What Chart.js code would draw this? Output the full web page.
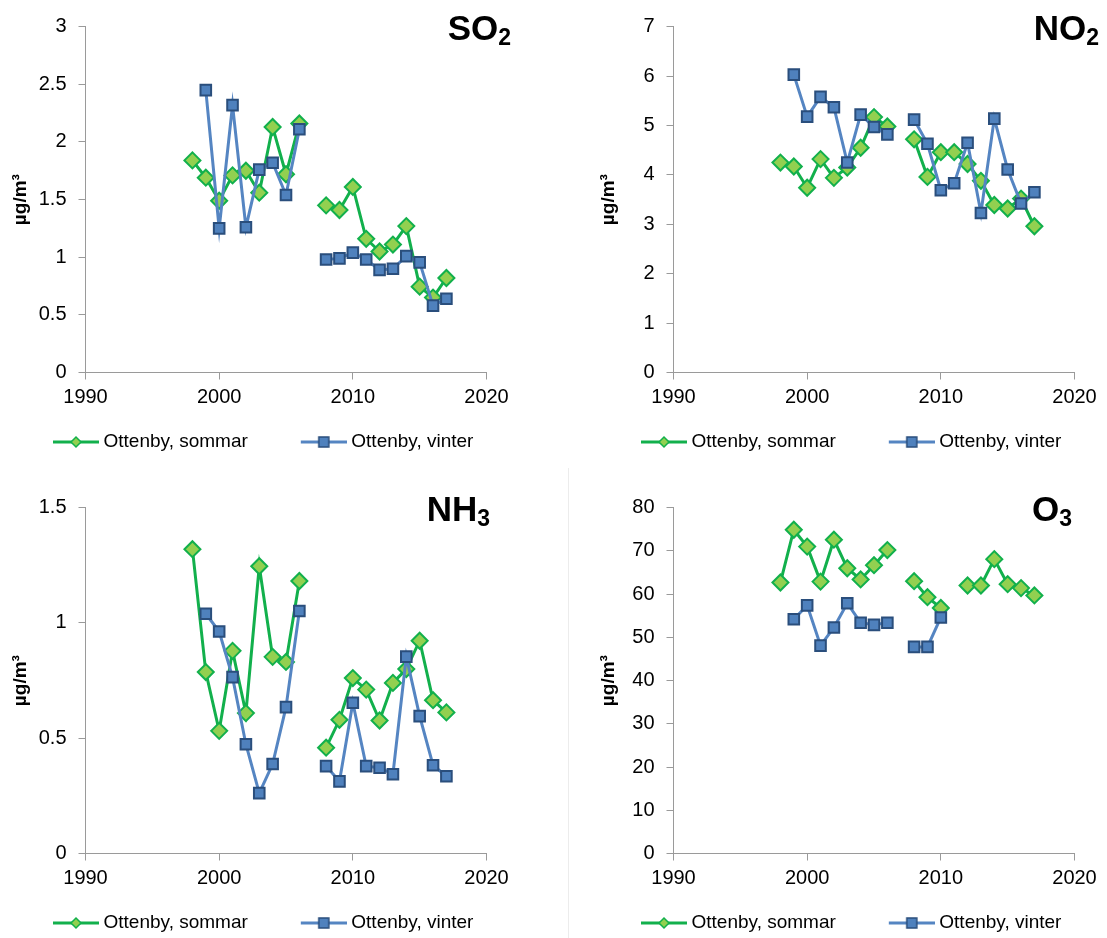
<!DOCTYPE html>
<html><head><meta charset="utf-8">
<script src="https://cdn.jsdelivr.net/npm/chart.js@4.4.1/dist/chart.umd.min.js"></script>
<style>
html,body{margin:0;padding:0;background:#fff;overflow:hidden;width:1107px;height:938px;}
canvas{position:absolute;}
.ttl{position:absolute;width:200px;text-align:right;font-family:'Liberation Sans',Arial,sans-serif;font-weight:bold;font-size:35px;line-height:35px;color:#000;white-space:nowrap;}
.ttl span{font-size:23px;position:relative;top:5px;}
.sep{position:absolute;left:568px;top:468px;width:1px;height:470px;background:#ececec;}
</style></head><body>
<div class="sep"></div>
<canvas id="c1" width="518" height="469" style="left:0px;top:0px"></canvas>
<canvas id="c2" width="518" height="469" style="left:588px;top:0px"></canvas>
<canvas id="c3" width="518" height="469" style="left:0px;top:481px"></canvas>
<canvas id="c4" width="518" height="469" style="left:588px;top:481px"></canvas>
<div class="ttl" style="left:311px;top:10px">SO<span>2</span></div>
<div class="ttl" style="left:899px;top:10px">NO<span>2</span></div>
<div class="ttl" style="left:290px;top:491px">NH<span>3</span></div>
<div class="ttl" style="left:872px;top:491px">O<span>3</span></div>
<script>
const years = [1998,1999,2000,2001,2002,2003,2004,2005,2006,2007,2008,2009,2010,2011,2012,2013,2014,2015,2016,2017];
const xTickLabels = {1990:'1990',2000:'2000',2010:'2010',2020:'2020'};
const seriesNames = ['Ottenby, sommar','Ottenby, vinter'];
const yTitle = 'µg/m³';

const so2YTicks = ['0','0.5','1','1.5','2','2.5','3'];
const no2YTicks = ['0','1','2','3','4','5','6','7'];
const nh3YTicks = ['0','0.5','1','1.5'];
const o3YTicks  = ['0','10','20','30','40','50','60','70','80'];

const so2Sommar = [1.84,1.69,1.49,1.71,1.75,1.56,2.13,1.72,2.16,null,1.45,1.41,1.61,1.16,1.05,1.11,1.27,0.745,0.65,0.82];
const so2Vinter = [null,2.45,1.25,2.32,1.26,1.76,1.82,1.54,2.11,null,0.98,0.99,1.04,0.98,0.89,0.90,1.01,0.955,0.58,0.64];
const no2Sommar = [4.25,4.17,3.74,4.32,3.94,4.15,4.55,5.17,4.98,null,4.72,3.96,4.46,4.46,4.22,3.88,3.39,3.32,3.52,2.96];
const no2Vinter = [null,6.03,5.18,5.58,5.37,4.25,5.22,4.97,4.82,null,5.12,4.63,3.69,3.83,4.65,3.23,5.14,4.11,3.42,3.65];
const nh3Sommar = [1.32,0.787,0.532,0.879,0.609,1.246,0.853,0.831,1.182,null,0.459,0.58,0.761,0.711,0.577,0.74,0.80,0.923,0.665,0.612];
const nh3Vinter = [null,1.04,0.963,0.765,0.474,0.262,0.388,0.635,1.052,null,0.379,0.313,0.654,0.379,0.372,0.344,0.854,0.596,0.383,0.335];
const o3Sommar = [62.7,74.9,71.0,62.9,72.6,66.0,63.4,66.7,70.2,null,63.0,59.3,56.8,null,62.0,62.0,68.1,62.3,61.4,59.7];
const o3Vinter = [null,54.2,57.4,48.1,52.3,57.9,53.4,52.9,53.4,null,47.8,47.8,54.6,null,null,null,null,null,null,null];

const FAMILY = "'Liberation Sans', Arial, sans-serif";
const GREEN_LINE = '#12B04C', GREEN_FILL = '#92D050', GREEN_EDGE = '#12B04C';
const BLUE_LINE = '#5585C2', BLUE_FILL = '#4F81BD', BLUE_EDGE = '#2A4E7C';
const AXIS = '#9a9a9a';
const CW = 518;

function pts(arr){ return years.map((y,i)=>({x:y, y:arr[i]})); }

function legendIcon(kind){
  const W=96,H=18;
  const c=document.createElement('canvas'); c.width=W; c.height=H;
  const g=c.getContext('2d');
  g.strokeStyle = kind==='s'?GREEN_LINE:BLUE_LINE; g.lineWidth=3;
  g.beginPath(); g.moveTo(W-46,H/2); g.lineTo(W,H/2); g.stroke();
  const cx=W-23, cy=H/2;
  g.lineWidth=1.5;
  if(kind==='s'){
    const r=5;
    g.fillStyle=GREEN_FILL; g.strokeStyle=GREEN_EDGE;
    g.beginPath(); g.moveTo(cx-r,cy); g.lineTo(cx,cy-r); g.lineTo(cx+r,cy); g.lineTo(cx,cy+r); g.closePath(); g.fill(); g.stroke();
  } else {
    const s=10;
    g.fillStyle=BLUE_FILL; g.strokeStyle=BLUE_EDGE;
    g.fillRect(cx-s/2,cy-s/2,s,s); g.strokeRect(cx-s/2,cy-s/2,s,s);
  }
  return c;
}
const iconS = legendIcon('s'), iconV = legendIcon('v');

function makeChart(id, sommar, vinter, yMax, yStep, yTicks){
  new Chart(document.getElementById(id), {
    type:'line',
    data:{datasets:[
      {label:seriesNames[0], data:pts(sommar), borderColor:GREEN_LINE, borderWidth:3, pointStyle:'rectRot', pointRadius:8, pointHoverRadius:8,
       pointBackgroundColor:GREEN_FILL, pointBorderColor:GREEN_EDGE, pointBorderWidth:2, order:2, spanGaps:false, tension:0},
      {label:seriesNames[1], data:pts(vinter), borderColor:BLUE_LINE, borderWidth:3, pointStyle:'rect', pointRadius:7.5, pointHoverRadius:7.5,
       pointBackgroundColor:BLUE_FILL, pointBorderColor:BLUE_EDGE, pointBorderWidth:2, order:1, spanGaps:false, tension:0}
    ]},
    options:{
      responsive:false, animation:false, devicePixelRatio:1,
      layout:{padding:{top:26.7,bottom:7.5,left:0,right:0}},
      plugins:{
        tooltip:{enabled:false},
        legend:{position:'bottom', align:'start',
          labels:{usePointStyle:true, pointStyleWidth:86, padding:8, color:'#000', font:{size:19,family:FAMILY},
            generateLabels:()=>[
              {text:seriesNames[0], pointStyle:iconS, fillStyle:GREEN_FILL, strokeStyle:GREEN_EDGE, lineWidth:0, hidden:false, datasetIndex:0, fontColor:'#000'},
              {text:seriesNames[1], pointStyle:iconV, fillStyle:BLUE_FILL, strokeStyle:BLUE_EDGE, lineWidth:0, hidden:false, datasetIndex:1, fontColor:'#000'}
            ]}}
      },
      scales:{
        x:{type:'linear', min:1990, max:2020,
           ticks:{stepSize:10, autoSkip:false, maxRotation:0, padding:6, color:'#000', font:{size:20,family:FAMILY}, callback:v=>xTickLabels[v]},
           grid:{display:true, drawOnChartArea:false, drawTicks:true, tickLength:7, color:AXIS},
           border:{display:true, color:AXIS, width:1},
           afterFit:s=>{s.height=52;}},
        y:{type:'linear', min:0, max:yMax,
           ticks:{stepSize:yStep, padding:12, color:'#000', font:{size:20,family:FAMILY}, callback:(v,i)=>yTicks[i]},
           grid:{display:true, drawOnChartArea:false, drawTicks:true, tickLength:7, color:AXIS},
           border:{display:true, color:AXIS, width:1},
           title:{display:true, text:yTitle, color:'#000', font:{size:19,weight:'bold',family:FAMILY}, padding:{top:9,bottom:0}},
           afterFit:s=>{s.width=85.5;}},
        yR:{type:'linear', position:'right', display:true, min:0, max:1,
           grid:{display:false}, border:{display:false}, ticks:{display:false},
           afterFit:s=>{s.width=CW-486.5;}}
      }
    }
  });
}

makeChart('c1', so2Sommar, so2Vinter, 3, 0.5, so2YTicks);
makeChart('c2', no2Sommar, no2Vinter, 7, 1, no2YTicks);
makeChart('c3', nh3Sommar, nh3Vinter, 1.5, 0.5, nh3YTicks);
makeChart('c4', o3Sommar, o3Vinter, 80, 10, o3YTicks);
</script>
</body></html>
